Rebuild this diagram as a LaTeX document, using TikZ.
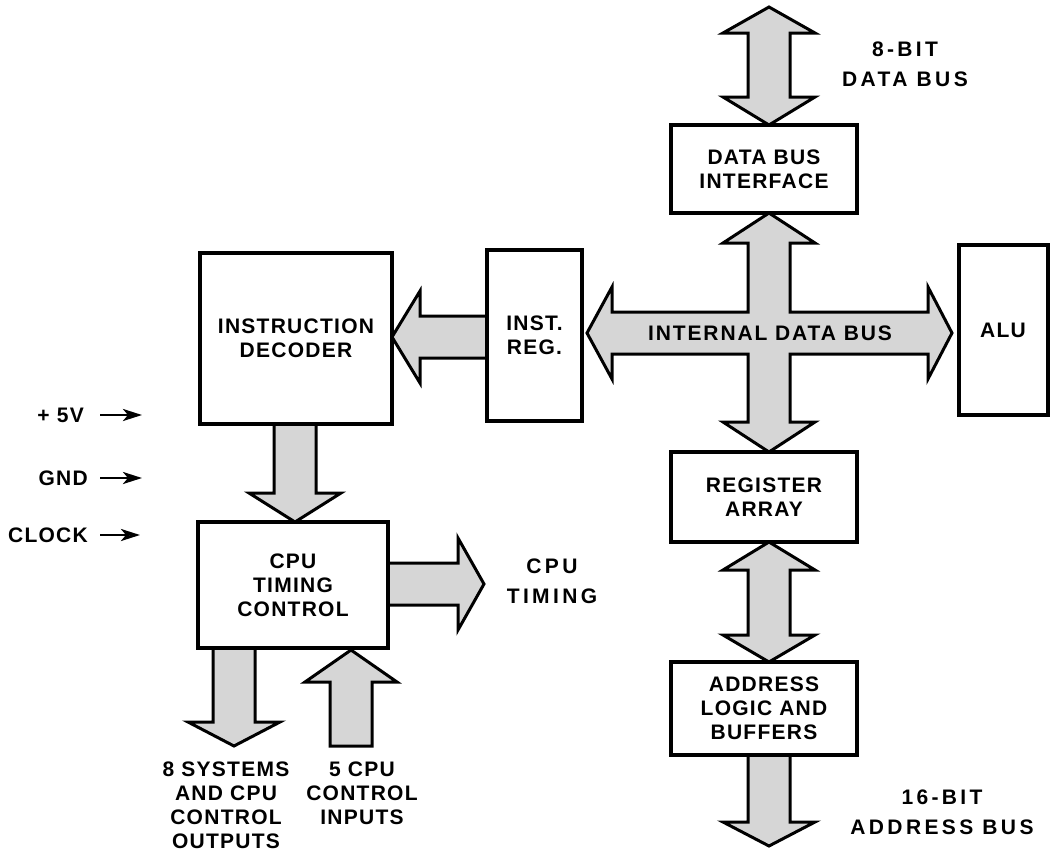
\documentclass[tikz,border=0pt]{standalone}
\usepackage{fontspec}
\setmainfont{Liberation Sans}[LetterSpace=6]
\usetikzlibrary{arrows.meta}
\def\hs{21}
\def\hh{46}
\newcommand\vblock[4]{% x, y tail, y head base, y tip
  \filldraw[barrow] ({#1-\hs},#2) -- ({#1-\hs},#3) -- ({#1-\hh},#3) -- (#1,#4) -- ({#1+\hh},#3) -- ({#1+\hs},#3) -- ({#1+\hs},#2) -- cycle;}
\newcommand\hblock[4]{% y, x tail, x head base, x tip
  \filldraw[barrow] (#2,{#1-\hs}) -- (#3,{#1-\hs}) -- (#3,{#1-\hh}) -- (#4,#1) -- (#3,{#1+\hh}) -- (#3,{#1+\hs}) -- (#2,{#1+\hs}) -- cycle;}
\newcommand\vdblock[5]{% x, top tip, top base, bottom base, bottom tip
  \filldraw[barrow] (#1,#2) -- ({#1+\hh},#3) -- ({#1+\hs},#3) -- ({#1+\hs},#4) -- ({#1+\hh},#4) -- (#1,#5) -- ({#1-\hh},#4) -- ({#1-\hs},#4) -- ({#1-\hs},#3) -- ({#1-\hh},#3) -- cycle;}
\tikzset{
  txt/.style={font=\bfseries\fontsize{21}{24}\selectfont, align=center, inner sep=0pt},
  wide/.style={font=\bfseries\fontsize{21}{30}\selectfont\addfontfeature{LetterSpace=16}, align=center, inner sep=0pt},
  blk/.style={txt, draw, line width=4pt, fill=white},
  barrow/.style={draw, line width=3pt, fill=black!16, line join=miter, miter limit=10},
  pin/.style={line width=2.8pt, -{Stealth[length=19pt,width=12pt,inset=5pt]}},
  pinopen/.style={line width=2.8pt, -{Stealth[open,length=19pt,width=12pt,inset=5pt]}}
}
\begin{document}
\begin{tikzpicture}[x=1pt,y=-1pt]
\useasboundingbox (0,0) rectangle (1055,852);
\fill[white] (0,0) rectangle (1055,852);

% block arrows (drawn first, boxes overlay their ends)
\vdblock{769}{7}{33}{97}{125}
\filldraw[barrow] (769,213) -- ({769+\hh},243) -- ({769+\hs},243) -- ({769+\hs},{333-\hs})
  -- (928,{333-\hs}) -- (928,{333-\hh}) -- (952,333) -- (928,{333+\hh}) -- (928,{333+\hs})
  -- ({769+\hs},{333+\hs}) -- ({769+\hs},422) -- ({769+\hh},422) -- (769,452) -- ({769-\hh},422)
  -- ({769-\hs},422) -- ({769-\hs},{333+\hs}) -- (612,{333+\hs}) -- (612,{333+\hh}) -- (587,333)
  -- (612,{333-\hh}) -- (612,{333-\hs}) -- ({769-\hs},{333-\hs}) -- ({769-\hs},243)
  -- ({769-\hh},243) -- cycle;
\vdblock{769}{542}{570}{635}{662}
\vblock{769}{755}{822}{846}
\vblock{295}{424}{493}{522}
\hblock{584}{388}{458}{484}
\vblock{234}{648}{722}{746}
\vblock{351}{746}{682}{650}
\hblock{337}{487}{420}{392}

% boxes
\node[blk, minimum width=186pt, minimum height=88pt] (dbi) at (764,169) {DATA BUS\\INTERFACE};
\node[blk, minimum width=186pt, minimum height=90pt] (reg) at (764,497) {REGISTER\\ARRAY};
\node[blk, minimum width=186pt, minimum height=93pt] (addr) at (764,708.5) {ADDRESS\\LOGIC AND\\BUFFERS};
\node[blk, minimum width=89pt, minimum height=170pt] (alu) at (1003,330) {ALU};
\node[blk, minimum width=192pt, minimum height=171pt] (idec) at (296,338.5) {INSTRUCTION\\DECODER};
\node[blk, minimum width=95pt, minimum height=171pt] (ireg) at (534.5,335.5) {INST.\\REG.};
\node[blk, minimum width=190pt, minimum height=126pt] (tim) at (293,585) {CPU\\TIMING\\CONTROL};

% bus text
\node[txt, font=\bfseries\fontsize{21}{24}\selectfont\addfontfeature{LetterSpace=9}] (ibus) at (770,333) {INTERNAL DATA BUS};

% outer labels
\node[wide] (dbus) at (905,64) {8-BIT\\DATA BUS};
\node[wide] (abus) at (942,812) {16-BIT\\ADDRESS BUS};
\node[wide] (ctim) at (552,581) {CPU\\TIMING};
\node[txt] (outs) at (226,805) {8 SYSTEMS\\AND CPU\\CONTROL\\OUTPUTS};
\node[txt] (ins) at (362,793) {5 CPU\\CONTROL\\INPUTS};

% power / clock pins
\node[txt, anchor=east] (p5v) at (84,415) {+ 5V};
\node[txt, anchor=east] (pgnd) at (88,478) {GND};
\node[txt, anchor=east] (pclk) at (88,535) {CLOCK};
\coordinate (p5va) at (100,415);  \coordinate (p5vb) at (142,415);
\coordinate (pgnda) at (100,478); \coordinate (pgndb) at (142,478);
\coordinate (pclka) at (100,535); \coordinate (pclkb) at (140,535);
\draw[pin] (p5va) -- (p5vb);
\draw[pin] (pgnda) -- (pgndb);
\draw[pinopen] (pclka) -- (pclkb);
\end{tikzpicture}
\end{document}
